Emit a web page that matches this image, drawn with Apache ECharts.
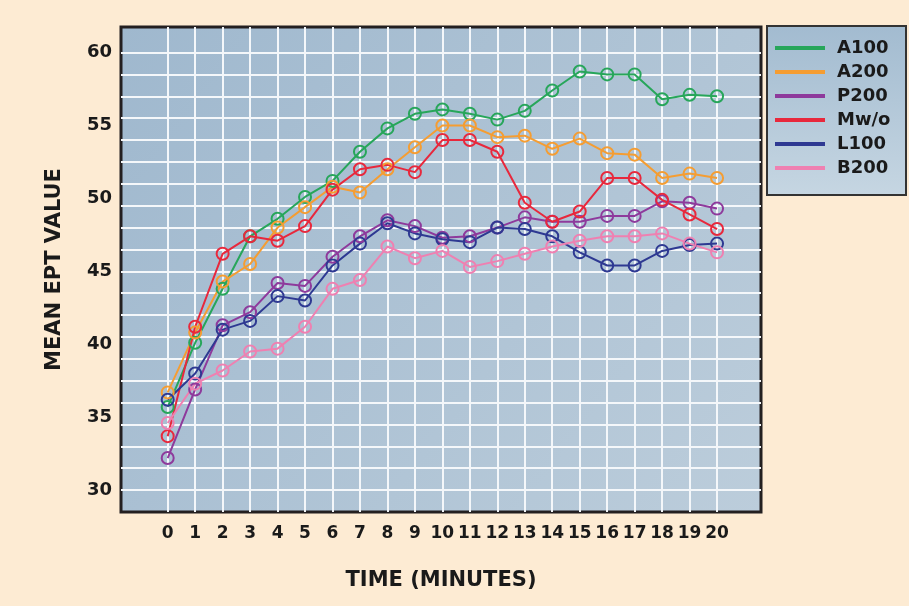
<!DOCTYPE html>
<html><head><meta charset="utf-8">
<script src="https://cdn.jsdelivr.net/npm/echarts@6/dist/echarts.min.js"></script>
<style>html,body{margin:0;padding:0;background:#fdebd3;}#c{width:909px;height:606px;}</style>
</head><body><div id="c"></div>
<script>
const times = [0,1,2,3,4,5,6,7,8,9,10,11,12,13,14,15,16,17,18,19,20];
const xTickLabels = [0,1,2,3,4,5,6,7,8,9,10,11,12,13,14,15,16,17,18,19,20];
const yTickLabels = [30,35,40,45,50,55,60];
const yGridValues = [30,31.5,33,34.5,36,37.5,39,40.5,42,43.5,45,46.5,48,49.5,51,52.5,54,55.5,57,58.5,60];
const seriesNames = ['A100','A200','P200','Mw/o','L100','B200'];
const A100 = [35.7,40.1,43.8,47.4,48.6,50.1,51.2,53.2,54.8,55.8,56.1,55.8,55.4,56.0,57.4,58.7,58.5,58.5,56.8,57.1,57.0];
const A200 = [36.7,40.8,44.3,45.5,48.0,49.4,50.8,50.4,52.0,53.5,55.0,55.0,54.2,54.3,53.4,54.1,53.1,53.0,51.4,51.7,51.4];
const P200 = [32.2,36.9,41.3,42.2,44.2,44.0,46.0,47.4,48.5,48.1,47.3,47.4,48.0,48.7,48.4,48.4,48.8,48.8,49.8,49.7,49.3];
const Mwo  = [33.7,41.2,46.2,47.4,47.1,48.1,50.6,52.0,52.3,51.8,54.0,54.0,53.2,49.7,48.4,49.1,51.4,51.4,49.9,48.9,47.9];
const L100 = [36.2,38.0,41.0,41.6,43.3,43.0,45.4,46.9,48.3,47.6,47.2,47.0,48.0,47.9,47.4,46.3,45.4,45.4,46.4,46.8,46.9];
const B200 = [34.6,37.3,38.2,39.5,39.7,41.2,43.8,44.4,46.7,45.9,46.4,45.3,45.7,46.2,46.7,47.1,47.4,47.4,47.6,46.9,46.3];
const seriesValues = [A100, A200, P200, Mwo, L100, B200];
const colors = ['#27a65a','#f59d32','#8e3a9c','#e8283c','#2e3992','#ef80b1'];

const FONT = 'DejaVu Sans';
const chart = echarts.init(document.getElementById('c'), null, {renderer:'canvas'});
const series = seriesNames.map((name, i) => ({
  name: name,
  type: 'line',
  data: times.map((t, j) => [t, seriesValues[i][j]]),
  symbol: 'circle',
  symbolSize: 12,
  color: colors[i],
  lineStyle: {color: colors[i], width: 2},
  itemStyle: {color: 'transparent', borderColor: colors[i], borderWidth: 2},
  emphasis: {disabled: true},
  yAxisIndex: 0
}));

chart.setOption({
  backgroundColor: '#fdebd3',
  animation: false,
  grid: {
    left: 121, right: 148, top: 27, bottom: 94,
    show: true,
    backgroundColor: {type:'linear', x:0, y:0, x2:1, y2:1, colorStops:[{offset:0,color:'#9fb8ce'},{offset:1,color:'#bccddb'}]},
    borderColor: '#231f20', borderWidth: 3
  },
  graphic: [{
    type: 'rect', z: 0,
    shape: {x: 767, y: 26, width: 139, height: 169},
    style: {
      fill: {type:'linear', x:0, y:0, x2:0, y2:1, colorStops:[{offset:0,color:'#a2bbd0'},{offset:1,color:'#c6d6e2'}]},
      stroke: '#333333', lineWidth: 2
    }
  }],
  legend: {
    z: 10,
    orient: 'vertical',
    left: 775, top: 38, padding: 0,
    itemWidth: 50, itemHeight: 4, itemGap: 4,
    data: seriesNames.map((n, i) => ({name: n, icon: 'rect', itemStyle: {color: colors[i], borderWidth: 0}})),
    textStyle: {fontFamily: FONT, fontWeight: 'bold', fontSize: 18, color: '#1a1a1a', lineHeight: 20, padding: [0,0,0,7]},
    selectedMode: false
  },
  xAxis: {
    type: 'value', min: -1.7, max: 21.6,
    name: 'TIME (MINUTES)', nameLocation: 'middle', nameGap: 58,
    nameTextStyle: {fontFamily: FONT, fontWeight: 'bold', fontSize: 21, color: '#1a1a1a'},
    axisLine: {show: false},
    axisTick: {show: false, customValues: xTickLabels},
    axisLabel: {customValues: xTickLabels, fontFamily: FONT, fontWeight: 'bold', fontSize: 17, color: '#1a1a1a', margin: 13},
    splitLine: {show: true, lineStyle: {color: '#f4f7fa', width: 2}}
  },
  yAxis: {
    type: 'value', min: 28.5, max: 61.75,
    name: 'MEAN EPT VALUE', nameLocation: 'middle', nameGap: 56,
    nameTextStyle: {fontFamily: FONT, fontWeight: 'bold', fontSize: 21, color: '#1a1a1a'},
    axisLine: {show: false},
    axisTick: {show: false, customValues: yGridValues},
    axisLabel: {customValues: yTickLabels, fontFamily: FONT, fontWeight: 'bold', fontSize: 18, color: '#1a1a1a', margin: 9},
    splitLine: {show: true, lineStyle: {color: '#f4f7fa', width: 2}}
  },
  series: series
});
</script></body></html>
